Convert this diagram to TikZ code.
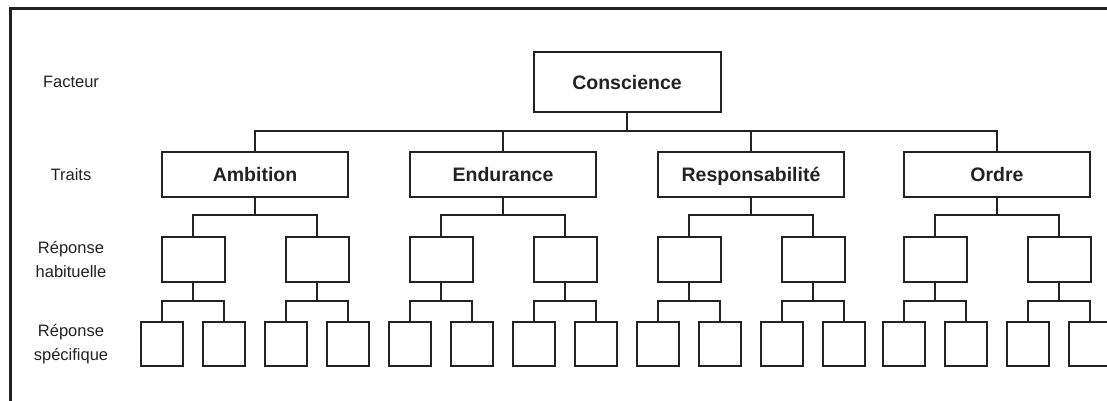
\documentclass[tikz,border=0pt]{standalone}
\usepackage{fontspec}
\setmainfont{Liberation Sans}
\definecolor{ink}{HTML}{222222}
\begin{document}
\begin{tikzpicture}[x=1pt,y=-1pt,
  box/.style={draw=ink, line width=2pt, fill=white, inner sep=0pt, text=ink},
  label font/.style={font=\fontsize{19.5}{22}\selectfont\bfseries, text height=16pt, text depth=2pt},
  factor/.style={box, label font, minimum width=187pt, minimum height=60pt},
  trait/.style={box, label font, minimum width=186pt, minimum height=45pt},
  habit/.style={box, minimum width=63pt, minimum height=45pt},
  spec/.style={box, minimum width=42pt, minimum height=44pt},
  link/.style={draw=ink, line width=1.5pt},
  lvl/.style={align=center, text=ink, font=\fontsize{16.5}{24}\selectfont},
  frame/.style={draw=ink, line width=3pt}]
\useasboundingbox (0,0) rectangle (1107,400);
\clip (0,0) rectangle (1107,400);
\fill[white] (0,0) rectangle (1107,400);
\draw[frame] (10,8) rectangle (1140,430);

% bus lines of the three connector levels
\coordinate (busT) at (0,131);
\coordinate (busH) at (0,215);
\coordinate (busS) at (0,301);

% level names
\node[lvl] (lf) at (71,82) {Facteur};
\node[lvl] (lt) at (71,174.5) {Traits};
\node[lvl] (lh) at (71,259) {Réponse\\habituelle};
\node[lvl] (ls) at (71,344) {Réponse\\spécifique};

% factor
\node[factor] (c) at (627,82) {Conscience};

% traits, habitual and specific responses
\foreach \i/\cx/\lbl in {1/255/Ambition,2/503/Endurance,3/751/Responsabilité,4/997/Ordre}{
  \node[trait] (t\i) at (\cx,174.5) {\lbl};
  \draw[link] (c.south) -- (c.south |- busT) -| (t\i.north);
  \foreach \j/\dx in {1/-62,2/62}{
    \pgfmathsetmacro\hx{\cx+\dx}
    \node[habit] (h\i\j) at (\hx,259) {};
    \draw[link] (t\i.south) -- (t\i.south |- busH) -| (h\i\j.north);
    \foreach \k/\ex in {1/-31,2/31}{
      \pgfmathsetmacro\sx{\hx+\ex}
      \node[spec] (s\i\j\k) at (\sx,344) {};
      \draw[link] (h\i\j.south) -- (h\i\j.south |- busS) -| (s\i\j\k.north);
    }
  }
}
\end{tikzpicture}
\end{document}
